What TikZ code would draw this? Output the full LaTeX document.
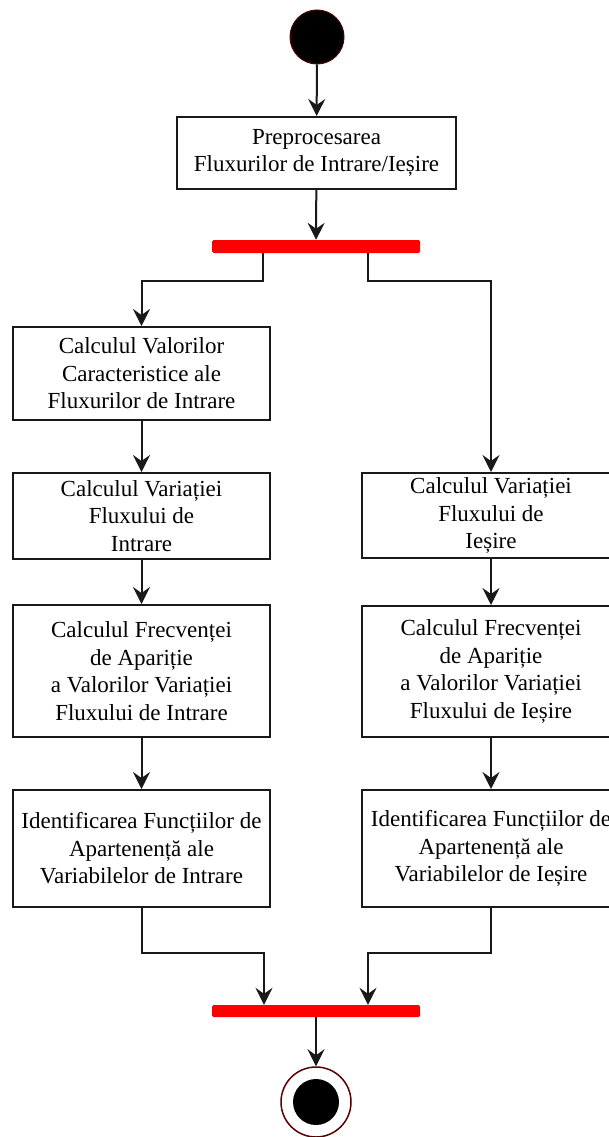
\documentclass[tikz,border=0pt]{standalone}
\usepackage{fontspec}
\setmainfont{Liberation Serif}
\usetikzlibrary{arrows.meta}

\tikzset{
  flow/.style={line width=2pt, draw=black!90, -{Stealth[length=17pt,width=17pt,inset=6pt]}},
  activity/.style={draw=black!90, line width=2pt, fill=white, align=center, inner sep=0pt,
    font=\fontsize{23}{27.5}\selectfont},
  syncbar/.style={fill=red, draw=none, rounded corners=1.5pt, minimum width=208pt, inner sep=0pt},
  startstate/.style={circle, fill=black, draw=black!70!red, line width=1pt, minimum size=54pt, inner sep=0pt},
  stopstate/.style={circle, draw=black!65!red, line width=1.5pt, fill=white, minimum size=70pt, inner sep=0pt},
}

\begin{document}
\begin{tikzpicture}[x=1pt,y=1pt]
\useasboundingbox (0,0) rectangle (608,-1137);

\node[startstate] (start) at (317,-37) {};
\node[activity, minimum width=279pt, minimum height=72pt] (prep) at (316.5,-153)
  {Preprocesarea\\Fluxurilor de Intrare/Ieșire};
\node[syncbar, minimum height=13pt] (fork) at (316,-246.5) {};

% ramura de intrare
\node[activity, minimum width=257pt, minimum height=93pt] (calcval) at (141.5,-373.5)
  {Calculul Valorilor\\Caracteristice ale\\Fluxurilor de Intrare};
\node[activity, minimum width=257pt, minimum height=86pt] (varin) at (141.5,-516)
  {Calculul Variației\\Fluxului de\\Intrare};
\node[activity, minimum width=257pt, minimum height=132pt] (frecin) at (141.5,-671)
  {Calculul Frecvenței\\de Apariție\\a Valorilor Variației\\Fluxului de Intrare};
\node[activity, minimum width=257pt, minimum height=117pt] (funcin) at (141.5,-848.5)
  {Identificarea Funcțiilor de\\Apartenență ale\\Variabilelor de Intrare};

% ramura de iesire
\node[activity, minimum width=258pt, minimum height=85pt] (varout) at (491,-515.5)
  {Calculul Variației\\Fluxului de\\Ieșire};
\node[activity, minimum width=258pt, minimum height=131pt] (frecout) at (491,-671.5)
  {Calculul Frecvenței\\de Apariție\\a Valorilor Variației\\Fluxului de Ieșire};
\node[activity, minimum width=258pt, minimum height=117pt] (funcout) at (491,-848.5)
  {Identificarea Funcțiilor de\\Apartenență ale\\Variabilelor de Ieșire};

\node[syncbar, minimum height=12pt] (join) at (316,-1011) {};
\node[stopstate] (stop) at (316,-1102) {};
\node[circle, fill=black, minimum size=46pt, inner sep=0pt] (stopdot) at (stop) {};

\draw[flow] (start) -- (prep);
\draw[flow] (prep) -- (fork);
\draw[flow] ([xshift=-53pt]fork.south) -- ++(0,-28) -| (calcval);
\draw[flow] ([xshift=52pt]fork.south) -- ++(0,-28) -| (varout);
\draw[flow] (calcval) -- (varin);
\draw[flow] (varin) -- (frecin);
\draw[flow] (frecin) -- (funcin);
\draw[flow] (varout) -- (frecout);
\draw[flow] (frecout) -- (funcout);
\draw[flow] (funcin) -- ++(0,-104.5) -| ([xshift=-52pt]join.north);
\draw[flow] (funcout) -- ++(0,-104.5) -| ([xshift=52pt]join.north);
\draw[flow] (join) -- (stop);
\end{tikzpicture}
\end{document}
